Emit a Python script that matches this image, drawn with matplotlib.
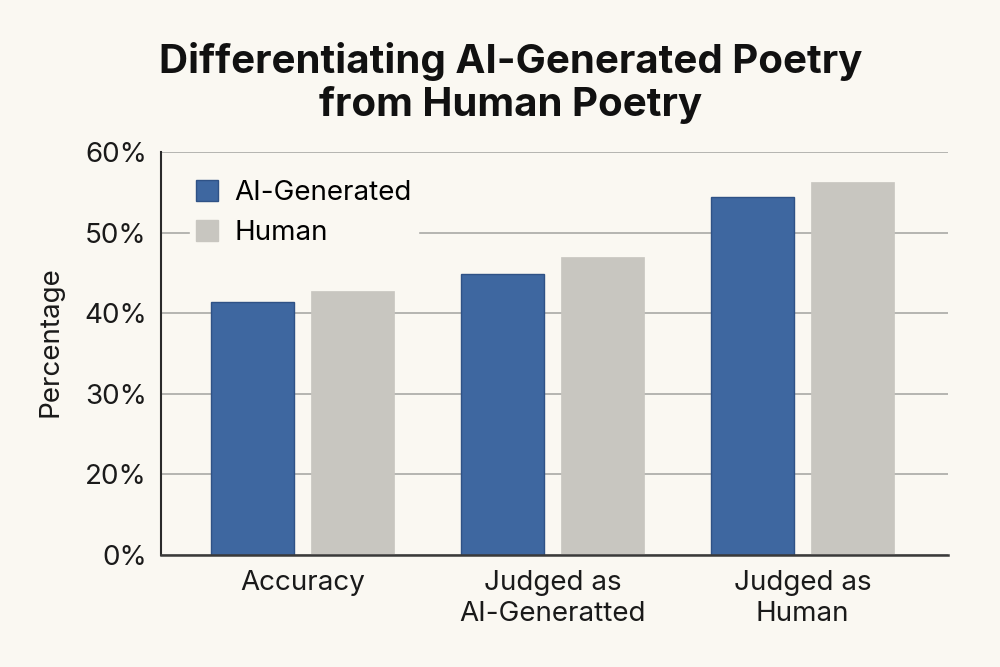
import numpy as np
import matplotlib
matplotlib.use("Agg")
import matplotlib.pyplot as plt
from matplotlib.patches import Patch

categories = ["Accuracy", "Judged as\nAI-Generatted", "Judged as\nHuman"]
ai_values = [41.4, 44.9, 54.4]
human_values = [42.8, 47.0, 56.3]
y_ticks = [0, 20, 30, 40, 50, 60]
y_tick_labels = ["0%", "20%", "30%", "40%", "50%", "60%"]

BG = "#FAF8F2"
BLUE = "#3E67A0"
GRAY = "#C8C6C0"

plt.rcParams['font.family'] = ['Inter', 'DejaVu Sans']


# axis in the picture: 0-20 takes one step, then 10 per step
def fwd(v):
    v = np.asarray(v, dtype=float)
    return np.where(v <= 20, v / 20.0, (v - 10.0) / 10.0)


def inv(p):
    p = np.asarray(p, dtype=float)
    return np.where(p <= 1, p * 20.0, p * 10.0 + 10.0)


fig = plt.figure(figsize=(10, 6.67), dpi=100, facecolor=BG)
ax = fig.add_axes([0.1607, 0.168, 0.7873, 0.604])
ax.set_facecolor(BG)
ax.set_yscale('function', functions=(fwd, inv))

x = np.arange(len(categories))
w = 0.33
ax.bar(x - 0.2, ai_values, w, color=BLUE, edgecolor="#2F5286", linewidth=1.0, zorder=3)
ax.bar(x + 0.2, human_values, w, color=GRAY, edgecolor=GRAY, linewidth=0.5, zorder=3)

ax.set_xlim(-0.567, 2.582)
ax.set_ylim(0, 60)
ax.set_yticks(y_ticks)
ax.set_yticklabels(y_tick_labels)
ax.yaxis.set_minor_locator(matplotlib.ticker.NullLocator())
ax.set_xticks(x)
ax.set_xticklabels(categories, linespacing=1.25)
ax.tick_params(axis='both', length=0, labelsize=20, colors="#1a1a1a")
ax.tick_params(axis='y', pad=10)
ax.tick_params(axis='x', pad=11)

ax.grid(axis='y', color="#A9A9A6", linewidth=1.2, zorder=0)
for s in ["top", "right"]:
    ax.spines[s].set_visible(False)
ax.spines["left"].set_color("#2a2a2a")
ax.spines["bottom"].set_color("#3a3a3a")
ax.spines["left"].set_linewidth(1.5)
ax.spines["bottom"].set_linewidth(1.8)
ax.spines["left"].set_zorder(4)
ax.spines["bottom"].set_zorder(4)

ax.set_ylabel("Percentage", fontsize=20, color="#1a1a1a")
ax.yaxis.set_label_coords(-0.123, 0.53)

handles = [Patch(facecolor=BLUE, edgecolor="#2F5286", label="AI-Generated"),
           Patch(facecolor=GRAY, edgecolor=GRAY, label="Human")]
leg = ax.legend(handles=handles, loc="upper left", bbox_to_anchor=(0.02, 0.98),
                frameon=True, facecolor=BG, edgecolor=BG, fontsize=20,
                handlelength=0.8, handleheight=0.8, handletextpad=0.6,
                labelspacing=0.5, borderpad=0.2, framealpha=1.0)
leg.set_zorder(5)

fig.text(0.511, 1 - 42 / 667, "Differentiating AI-Generated Poetry\nfrom Human Poetry",
         ha='center', va='top', fontsize=29, fontweight='bold', color="#111111",
         linespacing=1.15)

fig.savefig("out.png", dpi=100, facecolor=BG)
